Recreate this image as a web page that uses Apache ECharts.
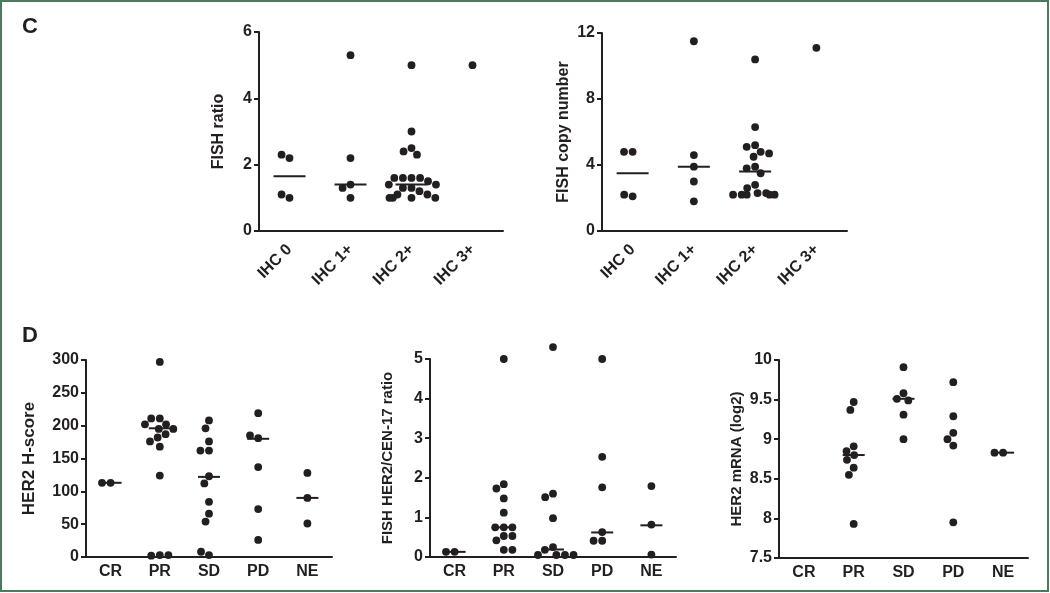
<!DOCTYPE html>
<html><head><meta charset="utf-8">
<script src="https://cdn.jsdelivr.net/npm/echarts@6/dist/echarts.min.js"></script>
<style>html,body{margin:0;padding:0;background:#fff}#c{width:1050px;height:593px}</style>
</head><body><div id="c"></div>
<script>
// ---- data ----
const ihcCats = ['IHC 0', 'IHC 1+', 'IHC 2+', 'IHC 3+'];
const respCats = ['CR', 'PR', 'SD', 'PD', 'NE'];

const fishRatio = [
  [2.2, 2.3, 1.0, 1.1],
  [5.3, 2.2, 1.4, 1.3, 1.0],
  [5.0, 3.0, 2.5, 2.4, 2.3, 1.6, 1.6, 1.6, 1.6, 1.5, 1.4, 1.4, 1.3, 1.3, 1.2, 1.1, 1.1, 1.0, 1.0, 1.0, 1.0],
  [5.0]
];
const fishRatioMedian = [1.65, 1.4, 1.4, null];

const fishCopy = [
  [4.8, 4.8, 2.1, 2.2],
  [11.5, 4.6, 3.9, 3.0, 1.8],
  [10.4, 6.3, 5.2, 5.1, 4.8, 4.7, 4.5, 3.9, 3.8, 3.5, 2.8, 2.6, 2.3, 2.3, 2.2, 2.2, 2.2, 2.2, 2.2],
  [11.1]
];
const fishCopyMedian = [3.5, 3.9, 3.6, null];

const hScore = [
  [113, 113],
  [297, 211, 211, 202, 202, 195, 195, 187, 182, 176, 168, 124, 3, 2, 3],
  [208, 196, 176, 162, 162, 123, 112, 84, 66, 54, 3, 8],
  [219, 181, 185, 137, 73, 26],
  [128, 90, 51]
];
const hScoreMedian = [113, 196, 122, 180, 90];

const fishHer2 = [
  [0.13, 0.13],
  [5.0, 1.84, 1.73, 1.48, 1.12, 0.75, 0.75, 0.75, 0.53, 0.53, 0.42, 0.18, 0.18],
  [5.3, 1.6, 1.51, 0.98, 0.25, 0.18, 0.05, 0.05, 0.05, 0.05],
  [5.0, 2.53, 1.76, 0.63, 0.41, 0.41],
  [1.79, 0.82, 0.06]
];
const fishHer2Median = [0.13, 0.75, 0.19, 0.62, 0.8];

const mrna = [
  [],
  [9.47, 9.37, 8.91, 8.85, 8.80, 8.74, 8.64, 8.55, 7.93],
  [9.91, 9.58, 9.51, 9.49, 9.31, 9.00],
  [9.72, 9.29, 9.08, 9.0, 8.92, 7.95],
  [8.83, 8.83]
];
const mrnaMedian = [null, 8.8, 9.51, null, 8.83];

// ---- panel layout / styling ----
const INK = '#231f20';
const FONT = 'Liberation Sans, Arial, sans-serif';
const panels = [
  { cats: ihcCats, groups: fishRatio, med: fishRatioMedian, name: 'FISH ratio', nameSize: 16, nameGap: 32,
    grid: { left: 259, top: 32, width: 244, height: 199 }, min: 0, max: 6, interval: 2, rotate: 45, xMargin: 16, medW: 32 },
  { cats: ihcCats, groups: fishCopy, med: fishCopyMedian, name: 'FISH copy number', nameSize: 16, nameGap: 30,
    grid: { left: 602, top: 33, width: 245, height: 198 }, min: 0, max: 12, interval: 4, rotate: 45, xMargin: 16, medW: 32 },
  { cats: respCats, groups: hScore, med: hScoreMedian, name: 'HER2 H-score', nameSize: 17, nameGap: 48,
    grid: { left: 86, top: 360, width: 246, height: 197 }, min: 0, max: 300, interval: 50, rotate: 0, xMargin: 7, medW: 22 },
  { cats: respCats, groups: fishHer2, med: fishHer2Median, name: 'FISH HER2/CEN-17 ratio', nameSize: 15, nameGap: 35,
    grid: { left: 430, top: 359, width: 246, height: 198 }, min: 0, max: 5, interval: 1, rotate: 0, xMargin: 7, medW: 22 },
  { cats: respCats, groups: mrna, med: mrnaMedian, name: 'HER2 mRNA (log2)', nameSize: 15, nameGap: 35,
    grid: { left: 779, top: 360, width: 249, height: 198 }, min: 7.5, max: 10, interval: 0.5, rotate: 0, xMargin: 7, medW: 22 }
];

const grid = [], xAxis = [], yAxis = [], series = [];
panels.forEach((p, i) => {
  grid.push(Object.assign({ containLabel: false }, p.grid));
  xAxis.push({
    type: 'category', gridIndex: i, data: p.cats,
    jitter: 56, jitterOverlap: false, jitterMargin: 0.8,
    axisLine: { lineStyle: { color: INK, width: 2 } },
    axisTick: { alignWithLabel: true, length: 5, lineStyle: { color: INK, width: 2 } },
    axisLabel: { color: INK, fontFamily: FONT, fontWeight: 'bold', fontSize: 16, rotate: p.rotate, margin: p.xMargin },
    splitLine: { show: false }
  });
  yAxis.push({
    type: 'value', gridIndex: i, min: p.min, max: p.max, interval: p.interval,
    name: p.name, nameLocation: 'middle', nameGap: p.nameGap, nameRotate: 90,
    nameTextStyle: { color: INK, fontFamily: FONT, fontWeight: 'bold', fontSize: p.nameSize },
    axisLine: { show: true, lineStyle: { color: INK, width: 2 } },
    axisTick: { show: true, length: 5, lineStyle: { color: INK, width: 2 } },
    axisLabel: { color: INK, fontFamily: FONT, fontWeight: 'bold', fontSize: 16, margin: 7 },
    splitLine: { show: false }
  });
  const pts = [];
  p.groups.forEach((g, ci) => g.forEach(v => pts.push([p.cats[ci], v])));
  series.push({
    type: 'scatter', xAxisIndex: i, yAxisIndex: i, data: pts, clip: false,
    symbol: 'circle', symbolSize: 7.8, itemStyle: { color: INK, opacity: 1 }, z: 3, silent: true
  });
  const meds = [];
  p.med.forEach((m, ci) => { if (m != null) meds.push([ci, m]); });
  const w = p.medW;
  series.push({
    type: 'custom', xAxisIndex: i, yAxisIndex: i, data: meds, z: 4, silent: true,
    renderItem: function (params, api) {
      const c = api.coord([api.value(0), api.value(1)]);
      return { type: 'line', shape: { x1: c[0] - w / 2, y1: c[1], x2: c[0] + w / 2, y2: c[1] },
               style: { stroke: INK, lineWidth: 2 } };
    }
  });
});

const chart = echarts.init(document.getElementById('c'), null, { renderer: 'canvas' });
chart.setOption({
  animation: false,
  backgroundColor: '#ffffff',
  grid, xAxis, yAxis, series,
  graphic: [
    { type: 'rect', shape: { x: 1, y: 1, width: 1047, height: 590 }, style: { fill: 'none', stroke: '#4b7b5e', lineWidth: 2 }, silent: true },
    { type: 'text', left: 22, top: 16, style: { text: 'C', fill: INK, font: 'bold 22px ' + FONT } },
    { type: 'text', left: 22, top: 325, style: { text: 'D', fill: INK, font: 'bold 22px ' + FONT } }
  ]
});
</script></body></html>
